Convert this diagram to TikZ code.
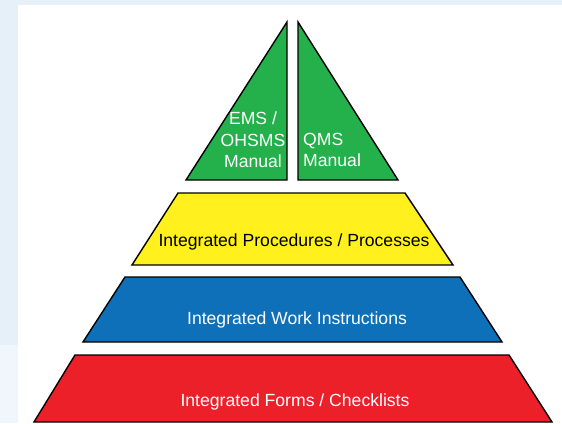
\documentclass[tikz,border=0pt]{standalone}
\usepackage{fontspec}
\setmainfont{Liberation Sans}
\usepackage{tikz}
\usetikzlibrary{positioning}
\definecolor{bgblue}{RGB}{230, 240, 248}
\definecolor{bglight}{RGB}{240, 246, 251}
\definecolor{manualgreen}{RGB}{36, 176, 75}
\definecolor{procyellow}{RGB}{255, 240, 30}
\definecolor{workblue}{RGB}{14, 112, 184}
\definecolor{formred}{RGB}{236, 32, 40}
\tikzstyle{tier} = [draw=black, line width=1.4pt, line join=miter]
\tikzstyle{tiertext} = [inner sep=0pt, text centered, font=\fontsize{17.6}{21.5}\selectfont]

\begin{document}
\begin{tikzpicture}[x=1pt, y=-1pt]

% background =============================
\fill[bgblue] (0,0) rectangle (562,423);
\fill[bglight] (0,345) rectangle (18,423);
\fill[white] (18,5) rectangle (562,423);
\useasboundingbox (0,0) rectangle (562,423);

% manuals
\draw[tier, fill=manualgreen] (287,22) -- (287,180) -- (186,180) -- cycle;
\draw[tier, fill=manualgreen] (298,22) -- (298,180) -- (398,180) -- cycle;
\node[tiertext, text=white, align=center] (ems) at (253,140) {EMS /\\OHSMS\\Manual};
\node[tiertext, text=white, align=left, anchor=west] (qms) at (303,150) {QMS\\Manual};

% levels
\draw[tier, fill=procyellow] (178,193) -- (405,193) -- (453,265) -- (132,265) -- cycle;
\draw[tier, fill=workblue] (125,277) -- (460,277) -- (502,342) -- (83,342) -- cycle;
\draw[tier, fill=formred] (75,355) -- (509,355) -- (552,422) -- (34,422) -- cycle;
\node[tiertext, text=black] (proc) at (294,242) {Integrated Procedures / Processes};
\node[tiertext, text=white] (work) at (297,320) {Integrated Work Instructions};
\node[tiertext, text=white] (forms) at (295,402) {Integrated Forms / Checklists};

\end{tikzpicture}
\end{document}
